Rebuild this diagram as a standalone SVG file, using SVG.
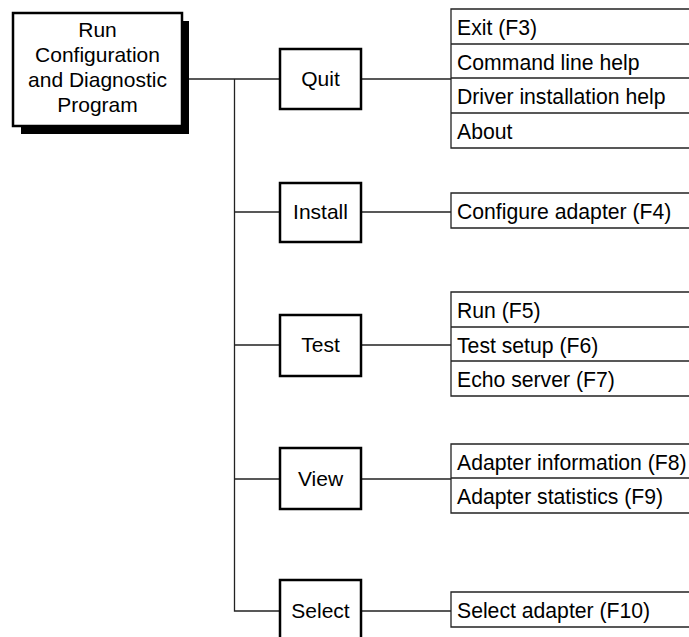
<svg xmlns="http://www.w3.org/2000/svg" width="689" height="637" viewBox="0 0 689 637">
<style>
.box{fill:#fff;stroke:#000;stroke-width:2.5}
.ln{fill:none;stroke:#222;stroke-width:1.3}
.bt{font-family:"Liberation Sans",Arial,sans-serif;font-size:21px;text-anchor:middle;fill:#000}
.lt{font-family:"Liberation Sans",Arial,sans-serif;font-size:21.2px;fill:#000}
</style>
<rect width="689" height="637" fill="#fff"/>
<g id="connectors" class="ln">
<path d="M182 79H280M234.5 79V611H280"/>
<path d="M234.5 212H280M234.5 345H280M234.5 479H280"/>
<path d="M361 79H451M361 212H451M361 345H451M361 479H451M361 611H451"/>
</g>
<g id="root">
<rect x="21" y="21" width="168" height="113" fill="#000"/>
<rect class="box" x="13" y="13" width="169" height="113"/>
<text class="bt" x="97.5" y="37">Run</text>
<text class="bt" x="97.5" y="62">Configuration</text>
<text class="bt" x="97.5" y="87">and Diagnostic</text>
<text class="bt" x="97.5" y="112">Program</text>
</g>
<g id="quit"><rect class="box" x="280" y="49" width="81" height="60"/><text class="bt" x="320.5" y="86">Quit</text></g>
<g id="install"><rect class="box" x="280" y="183" width="81" height="59"/><text class="bt" x="320.5" y="219">Install</text></g>
<g id="test"><rect class="box" x="280" y="315" width="81" height="61"/><text class="bt" x="320.5" y="352">Test</text></g>
<g id="view"><rect class="box" x="280" y="448" width="81" height="61"/><text class="bt" x="320.5" y="486">View</text></g>
<g id="select"><rect class="box" x="280" y="580" width="81" height="62"/><text class="bt" x="320.5" y="618">Select</text></g>
<g id="quit-menu">
<path class="ln" d="M689 9H451V148H689M451 44H689M451 78H689M451 113H689"/>
<text class="lt" x="457" y="35">Exit (F3)</text>
<text class="lt" x="457" y="70">Command line help</text>
<text class="lt" x="457" y="104">Driver installation help</text>
<text class="lt" x="457" y="139">About</text>
</g>
<g id="install-menu">
<path class="ln" d="M689 193H451V228H689"/>
<text class="lt" x="457" y="219">Configure adapter (F4)</text>
</g>
<g id="test-menu">
<path class="ln" d="M689 292H451V396H689M451 327H689M451 361H689"/>
<text class="lt" x="457" y="318">Run (F5)</text>
<text class="lt" x="457" y="353">Test setup (F6)</text>
<text class="lt" x="457" y="387">Echo server (F7)</text>
</g>
<g id="view-menu">
<path class="ln" d="M689 444H451V513H689M451 478H689"/>
<text class="lt" x="457" y="470">Adapter information (F8)</text>
<text class="lt" x="457" y="504">Adapter statistics (F9)</text>
</g>
<g id="select-menu">
<path class="ln" d="M689 592H451V627H689"/>
<text class="lt" x="457" y="618">Select adapter (F10)</text>
</g>
</svg>
